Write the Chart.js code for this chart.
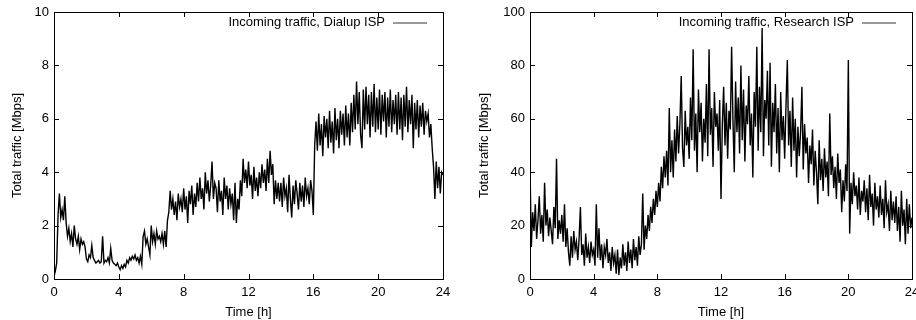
<!DOCTYPE html>
<html>
<head>
<meta charset="utf-8">
<script src="https://cdn.jsdelivr.net/npm/chart.js@4.4.1/dist/chart.umd.min.js"></script>
<style>
  html, body { margin: 0; padding: 0; background: #fff; }
  #wrap { position: relative; width: 916px; height: 320px; overflow: hidden; }
  canvas { position: absolute; top: 0; }
</style>
</head>
<body>
<div id="wrap">
  <canvas id="dialup" width="458" height="320" style="left:0"></canvas>
  <canvas id="research" width="458" height="320" style="left:458px"></canvas>
</div>
<script>
// samples every 5 minutes, 0h .. 24h (one row = one hour)
var stepMinutes = 5;

var dialupTraffic = [
  0.1, 0.3, 0.6, 2.4, 3.2, 2.3, 2.6, 2.2, 3.1, 2.1, 1.6, 1.9,
  1.4, 1.7, 1.2, 2.0, 1.5, 1.3, 1.6, 1.1, 1.5, 1.3, 1.4, 1.2,
  0.75, 0.65, 0.9, 0.8, 1.25, 0.8, 0.7, 0.6, 0.65, 0.7, 0.6, 0.65,
  1.6, 0.6, 0.7, 0.65, 0.8, 0.6, 1.15, 0.7, 0.6, 0.55, 0.5, 0.6,
  0.45, 0.35, 0.5, 0.4, 0.55, 0.45, 0.7, 0.6, 0.8, 0.7, 0.85, 0.75,
  0.9, 0.7, 0.8, 0.6, 0.85, 0.55, 1.6, 1.8, 1.3, 1.5, 1.2, 0.9,
  2.0, 1.4, 1.7, 1.3, 1.8, 1.5, 1.6, 1.4, 1.7, 1.3, 1.8, 1.2,
  2.2, 2.5, 3.3, 2.6, 3.0, 2.4, 2.9, 2.2, 3.2, 2.7, 3.0, 2.5,
  3.4, 2.6, 3.1, 2.1, 3.3, 2.8, 3.5, 2.4, 3.2, 2.7, 3.6, 2.9,
  3.8, 3.0, 3.4, 2.6, 4.0, 3.2, 3.7, 2.9, 3.5, 4.4, 3.0, 3.6,
  3.4, 2.5, 3.7, 2.9, 3.3, 2.4, 3.8, 3.0, 3.5, 2.6, 3.4, 2.8,
  3.2, 2.2, 3.6, 2.1, 3.0, 2.6, 3.7, 3.1, 4.5, 3.6, 4.1, 3.4,
  4.4, 3.5, 3.9, 3.0, 4.2, 3.3, 3.8, 3.1, 4.0, 3.4, 4.3, 3.6,
  4.1, 3.3, 4.5, 3.6, 4.8, 3.9, 4.3, 2.8, 3.7, 3.0, 3.6, 2.9,
  3.6, 2.7, 3.8, 3.1, 3.4, 2.5, 3.9, 3.0, 2.3, 3.5, 2.8, 3.7,
  3.2, 2.6, 3.6, 2.9, 3.5, 2.7, 3.8, 3.1, 3.4, 2.8, 3.7, 3.3,
  2.4, 5.0, 5.9, 4.8, 6.2, 5.0, 5.8, 4.6, 6.1, 5.3, 6.0, 4.9,
  6.3, 5.1, 5.9, 4.7, 6.4, 5.2, 6.0, 4.9, 6.3, 5.4, 6.2, 5.0,
  6.5, 5.3, 6.2, 5.0, 6.6, 5.5, 6.9, 5.6, 7.4, 5.8, 7.0, 5.4,
  4.9, 7.1, 5.6, 7.2, 5.8, 6.9, 5.3, 7.0, 5.7, 7.3, 5.5, 6.8,
  5.6, 7.1, 5.4, 6.9, 5.9, 7.0, 5.3, 6.8, 5.7, 7.1, 5.5, 6.7,
  5.8, 6.9, 5.4, 7.0, 5.6, 6.8, 5.2, 6.9, 5.7, 7.2, 5.5, 6.7,
  5.8, 6.9, 4.9, 6.6, 5.6, 6.7, 5.3, 6.5, 5.7, 6.6, 5.4, 6.3,
  5.9, 6.2, 5.3, 5.8, 4.9, 4.2, 3.0, 4.4, 3.4, 4.2, 3.2, 4.0,
  3.9
];

var researchTraffic = [
  42, 12, 25, 18, 28, 15, 22, 31, 17, 24, 14, 36,
  20, 26, 16, 23, 18, 13, 27, 19, 45, 15, 22, 17,
  24, 14, 28, 12, 19, 10, 5, 16, 8, 18, 11, 14,
  7, 15, 27, 9, 13, 5, 17, 8, 12, 6, 14, 9,
  11, 5, 28, 8, 19, 7, 13, 4, 12, 9, 15, 6,
  10, 3, 12, 6, 9, 2, 11, 1.5, 8, 4, 13, 5,
  10, 3, 14, 6, 11, 4, 15, 7, 12, 5, 16, 9,
  13, 32, 11, 20, 15, 24, 18, 27, 21, 30, 24, 33,
  27, 36, 29, 42, 34, 46, 38, 48, 35, 64, 40, 52,
  38, 56, 44, 61, 47, 58, 76, 49, 42, 63, 50, 57,
  45, 68, 52, 86, 48, 62, 40, 71, 55, 66, 44, 60,
  51, 73, 46, 86, 54, 64, 42, 70, 57, 62, 48, 67,
  30, 58, 72, 50, 66, 45, 63, 56, 87, 60, 40, 74,
  55, 68, 47, 80, 52, 71, 44, 65, 58, 76, 50, 62,
  38, 70, 57, 87, 48, 72, 55, 94, 46, 67, 60, 78,
  50, 81, 42, 66, 55, 73, 47, 64, 40, 70, 52, 61,
  45, 65, 82, 50, 63, 42, 68, 48, 60, 38, 57, 46,
  55, 72, 41, 58, 47, 53, 36, 50, 43, 56, 35, 48,
  40, 28, 52, 37, 45, 33, 49, 38, 44, 31, 62, 39,
  46, 34, 42, 30, 47, 36, 41, 25, 37, 29, 43, 33,
  82, 17, 36, 28, 40, 31, 35, 26, 38, 24, 33, 29,
  37, 25, 34, 22, 39, 27, 32, 20, 36, 26, 31, 23,
  35, 24, 30, 19, 37, 25, 28, 18, 33, 22, 29, 21,
  31, 18, 27, 14, 33, 20, 26, 13, 30, 17, 28, 19,
  23
];

var xTicks = [0, 4, 8, 12, 16, 20, 24];
var dialupTicks = [0, 2, 4, 6, 8, 10];
var researchTicks = [0, 20, 40, 60, 80, 100];

var fontFamily = '"Liberation Sans", Arial, Helvetica, sans-serif';
var fontSize = 13;

function toPoints(values) {
  return values.map(function (v, i) { return { x: i * stepMinutes / 60, y: v }; });
}

// gnuplot look: frame, inward ticks on all four sides, key at top right inside
var gnuplotFrame = {
  id: 'gnuplotFrame',
  afterDatasetsDraw: function (chart) {
    var ctx = chart.ctx, a = chart.chartArea;
    var xs = chart.scales.x, ys = chart.scales.y;
    var tl = 5;
    ctx.save();
    ctx.strokeStyle = '#000';
    ctx.lineWidth = 1;
    ctx.beginPath();
    xs.ticks.forEach(function (t) {
      var px = Math.round(xs.getPixelForValue(t.value)) + 0.5;
      ctx.moveTo(px, a.bottom); ctx.lineTo(px, a.bottom - tl);
      ctx.moveTo(px, a.top); ctx.lineTo(px, a.top + tl);
    });
    ys.ticks.forEach(function (t) {
      var py = Math.round(ys.getPixelForValue(t.value)) + 0.5;
      ctx.moveTo(a.left, py); ctx.lineTo(a.left + tl, py);
      ctx.moveTo(a.right, py); ctx.lineTo(a.right - tl, py);
    });
    ctx.stroke();
    ctx.strokeRect(Math.round(a.left) + 0.5, Math.round(a.top) + 0.5,
      Math.round(a.right - a.left), Math.round(a.bottom - a.top));

    // key
    var label = chart.data.datasets[0].label;
    var ky = a.top + 10.5;
    ctx.fillStyle = '#000';
    ctx.font = fontSize + 'px ' + fontFamily;
    ctx.textAlign = 'right';
    ctx.textBaseline = 'middle';
    ctx.fillText(label, a.right - 58, ky);
    ctx.strokeStyle = '#333';
    ctx.beginPath();
    ctx.moveTo(a.right - 50, Math.round(ky));
    ctx.lineTo(a.right - 16, Math.round(ky));
    ctx.stroke();
    ctx.restore();
  }
};

function makeChart(id, label, values, yTicks, yWidth, padRight, titlePad) {
  var ctx = document.getElementById(id);
  return new Chart(ctx, {
    type: 'line',
    data: {
      datasets: [{
        label: label,
        data: toPoints(values),
        borderColor: '#000',
        borderWidth: 1.4,
        pointRadius: 0,
        tension: 0,
        fill: false
      }]
    },
    options: {
      responsive: false,
      animation: false,
      events: [],
      layout: { padding: { top: 12, right: padRight, left: 0, bottom: 0 } },
      plugins: { legend: { display: false }, tooltip: { enabled: false } },
      scales: {
        x: {
          type: 'linear',
          min: 0,
          max: 24,
          afterBuildTicks: function (s) { s.ticks = xTicks.map(function (v) { return { value: v }; }); },
          afterFit: function (s) { s.height = 41; s.paddingLeft = 0; s.paddingRight = 0; },
          grid: { display: false, drawTicks: false },
          border: { display: false },
          ticks: { color: '#000', padding: 6, maxRotation: 0, font: { family: fontFamily, size: fontSize } },
          title: {
            display: true,
            text: 'Time [h]',
            color: '#000',
            font: { family: fontFamily, size: fontSize, lineHeight: 1.2 },
            padding: { top: 0, bottom: 0 }
          }
        },
        y: {
          min: yTicks[0],
          max: yTicks[yTicks.length - 1],
          afterBuildTicks: function (s) { s.ticks = yTicks.map(function (v) { return { value: v }; }); },
          afterFit: function (s) { s.width = yWidth; s.paddingTop = 0; s.paddingBottom = 0; },
          grid: { display: false, drawTicks: false },
          border: { display: false },
          ticks: { color: '#000', padding: 5, font: { family: fontFamily, size: fontSize } },
          title: {
            display: true,
            text: 'Total traffic [Mbps]',
            color: '#000',
            font: { family: fontFamily, size: fontSize, lineHeight: 1.2 },
            padding: { top: titlePad, bottom: 0 }
          }
        }
      }
    },
    plugins: [gnuplotFrame]
  });
}

makeChart('dialup', 'Incoming traffic, Dialup ISP', dialupTraffic, dialupTicks, 54, 15, 10);
makeChart('research', 'Incoming traffic, Research ISP', researchTraffic, researchTicks, 72, 4, 18.5);
</script>
</body>
</html>
